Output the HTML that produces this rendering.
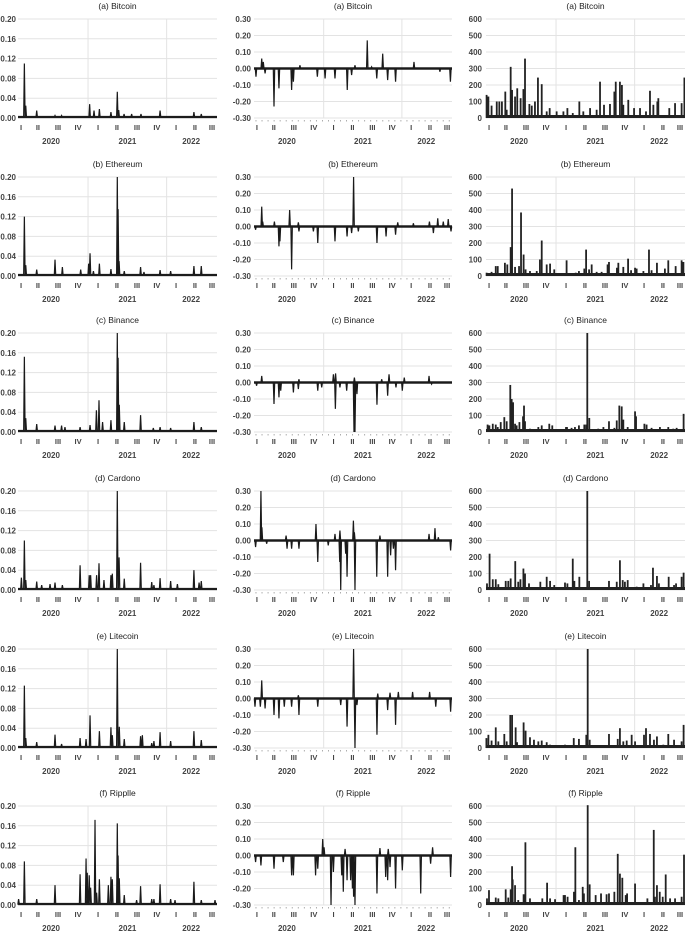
<!DOCTYPE html>
<html><head><meta charset="utf-8">
<style>
html,body{margin:0;padding:0;background:#fff;}
svg{display:block;font-family:"Liberation Sans",sans-serif;}
</style></head>
<body>
<svg id="chart" width="685" height="931" viewBox="0 0 685 931" xmlns="http://www.w3.org/2000/svg"></svg>
<script>
// ---------- data (t = time position 0..100 across 2020 Q1 – 2022 Q3) ----------
const coinTitles = ["(a) Bitcoin","(b) Ethereum","(c) Binance","(d) Cardono","(e) Litecoin","(f) Ripple","(f) Ripplle"];
const quarterLabels = ["I","II","III","IV","I","II","III","IV","I","II","III"];
const quarterPos = [1.5,10,20.1,30.2,40.2,49.7,59.8,69.8,79.4,88.9,97.5];
const yearLabels = ["2020","2021","2022"];
const yearPos = [16.6,55,87];
const yearGrid = [35.2,74.7];
const ticksVol = [0,0.04,0.08,0.12,0.16,0.20];
const ticksRet = [-0.30,-0.20,-0.10,0.00,0.10,0.20,0.30];
const ticksVolu = [0,100,200,300,400,500,600];

// Column 1: volatility
const volBtcT=[3.2,3.9,9.4,18.6,21.9,36,38.2,40.9,46.7,49.9,50.6,53.3,57.1,61.8,71.4,88.4,92.1];
const volBtcV=[0.11,0.025,0.015,0.005,0.005,0.028,0.015,0.018,0.012,0.053,0.016,0.008,0.008,0.008,0.015,0.012,0.008];
const volEthT=[3.2,3.9,9.4,18.6,22.3,31.5,35.5,36.2,37.9,40.9,46.7,49.9,50.3,50.8,53.4,61.6,63.3,71.4,76.7,88.4,92.1];
const volEthV=[0.12,0.022,0.013,0.033,0.018,0.013,0.025,0.046,0.01,0.025,0.014,0.2,0.135,0.03,0.01,0.018,0.008,0.012,0.01,0.02,0.02];
const volBnbT=[3.2,3.9,9.4,18.6,21.9,23.6,31.2,36.2,39.4,40.7,42.5,46.7,49.9,50.3,50.9,53.4,61.6,68,71.4,76.7,88.4,92.1];
const volBnbV=[0.152,0.028,0.016,0.013,0.013,0.01,0.01,0.014,0.044,0.064,0.02,0.024,0.2,0.15,0.055,0.02,0.034,0.008,0.01,0.008,0.02,0.01];
const volAdaT=[1.7,3.2,3.9,9.4,11.9,16.1,18.6,22.3,31.2,35.8,36.5,39.5,40.7,43.2,46.7,47.4,49.9,50.8,53.4,61.6,67.2,68.3,71.4,76.7,80.1,88.4,91,92.1];
const volAdaV=[0.025,0.1,0.02,0.017,0.01,0.012,0.015,0.01,0.05,0.03,0.03,0.03,0.054,0.02,0.03,0.033,0.2,0.066,0.023,0.055,0.016,0.01,0.024,0.018,0.012,0.04,0.015,0.018];
const volLtcT=[3.2,3.9,9.4,18.6,21.9,31.2,34.2,36.2,40.9,46.7,47.4,49.9,50.9,53.4,61.6,62.5,67.2,68.3,71.4,76.7,88.4,92.1];
const volLtcV=[0.126,0.02,0.012,0.027,0.008,0.02,0.018,0.066,0.034,0.042,0.026,0.2,0.043,0.018,0.024,0.026,0.01,0.014,0.032,0.014,0.034,0.016];
const volXrpT=[0.3,3.2,9.4,18.6,31.2,34.2,34.8,35.8,36.5,38.7,39.5,40.9,45.4,46.7,47.4,49.9,50.3,50.9,53.4,59.6,61.6,67.2,68.3,71.4,76.7,78.9,88.4,92.1,99];
const volXrpV=[0.012,0.088,0.012,0.04,0.062,0.094,0.065,0.06,0.035,0.172,0.025,0.052,0.04,0.057,0.052,0.165,0.1,0.054,0.02,0.01,0.038,0.012,0.012,0.042,0.012,0.01,0.047,0.01,0.01];

// Column 2: returns
const retBtcT=[1,3.9,4.7,5.6,10.1,12.6,19,19.9,23.2,32,35.9,40.9,47.1,49.3,51,57.2,59.4,62,65,67.5,71.5,80.8,93.9,99.2];
const retBtcV=[-0.05,0.06,0.04,-0.03,-0.23,-0.12,-0.13,-0.08,0.02,-0.05,-0.06,-0.06,-0.13,-0.04,0.02,0.17,0.01,-0.06,0.09,-0.07,-0.08,0.04,-0.02,-0.08];
const retEthT=[0.8,3.9,4.4,10.3,12.6,13.1,18,19,22.7,22.4,30,32.2,40.9,47,49.3,50.3,52.7,62.1,66.7,71.5,72.6,80.5,88.6,90.6,92.8,95.6,98.1,99.5];
const retEthV=[-0.02,0.12,0.03,0.03,-0.12,-0.09,0.1,-0.26,-0.03,0.025,-0.03,-0.1,-0.09,-0.06,-0.04,0.3,-0.03,-0.1,-0.06,-0.05,0.025,0.02,0.03,-0.04,0.05,0.03,0.045,-0.03];
const retBnbT=[1.3,3.9,10.1,12.6,13.5,19.9,22.4,22.7,32.2,34.2,40.1,41.2,41.1,43.4,46.8,50.5,50.7,51,52,62.1,64.5,67.5,68.2,71.7,74.9,75.9,88.4,89.7];
const retBnbV=[-0.02,0.04,-0.13,-0.09,-0.05,-0.06,-0.04,0.02,-0.05,-0.03,0.05,0.055,-0.16,-0.03,-0.05,-0.3,0.03,-0.3,-0.07,-0.135,0.02,-0.08,0.05,-0.03,-0.05,0.03,0.04,-0.01];
const retAdaT=[0.8,3.5,4,6.4,16.2,16.7,19,22.7,31.3,32.2,37.5,40.9,43.3,43.4,43.8,46.3,47,50.2,51,50.7,62,63.6,67.5,69,70.4,71.5,88.4,91.4,93.1,99.3];
const retAdaV=[-0.04,0.3,0.08,-0.02,0.03,-0.05,-0.05,-0.05,0.1,-0.13,-0.03,0.04,-0.13,0.06,-0.3,-0.08,-0.22,0.12,-0.3,0.05,-0.22,0.03,-0.22,-0.09,-0.05,-0.18,0.04,0.075,0.02,-0.06];
const retLtcT=[0.5,3.2,3.9,5.6,10.1,12.6,15.3,19,22.4,22.7,32.2,43.8,47,50.3,51,52,62.1,62.5,67.5,68.7,71.5,72.9,80.1,88.7,91.8,99.3];
const retLtcV=[-0.05,-0.05,0.11,-0.06,-0.1,-0.12,-0.05,-0.05,0.02,-0.1,-0.05,-0.04,-0.17,0.3,-0.3,-0.04,-0.22,0.03,-0.07,0.035,-0.16,0.04,0.04,0.04,-0.05,-0.08];
const retXrpT=[0.8,3.5,10.1,14.8,19,19.9,31.1,32.2,34.7,35.4,38.9,40.1,44.3,45.1,46,47,48.8,49.7,50.3,51,62.1,63.6,66.5,67.5,67.8,68.7,71.5,74.9,84.2,89.2,90.2,99.3];
const retXrpV=[-0.04,-0.06,-0.08,-0.04,-0.12,-0.12,-0.12,-0.08,0.1,0.05,-0.3,-0.1,-0.12,-0.22,0.04,-0.15,-0.15,-0.2,-0.25,-0.3,-0.23,0.045,-0.13,-0.15,0.04,-0.07,-0.2,-0.09,-0.23,-0.05,0.05,-0.13];

// Column 3: volume
const vlmBtcT=[0.3,1.2,2.8,5.4,6.7,8,9.7,10.4,12.4,13.1,14.6,15.7,17.4,18.8,19.6,21.8,23,24.6,26.1,28,30.5,32,35.5,38.9,40.9,43.6,46.9,48.9,52.3,55.6,57.3,59.3,62.3,64.5,65.2,67.3,68.3,69,71.5,74.4,77.4,80.4,82.4,84.1,86.1,86.6,92.1,95,98.3,99.7];
const vlmBtcV=[140,130,75,100,100,100,160,50,310,170,130,180,120,175,360,85,75,100,245,205,40,60,40,40,60,30,100,40,60,50,220,80,85,160,220,220,200,80,110,60,60,40,165,80,100,120,60,90,90,245];
const vlmEthT=[0.3,2.8,4.9,5.9,9.5,10.7,12.4,13.1,14.6,16.6,17.6,18.9,19.9,22.1,25.5,27.1,28,30.5,32.2,34.3,40.5,45.1,46.7,49.4,50.3,51.8,53.1,55.6,58.1,61.1,61.8,65.8,66.5,69,71.4,72.9,74.9,75.7,79.1,81.9,83.2,85.9,89.9,91.6,95.3,98.3,99.2];
const vlmEthV=[20,25,60,60,80,70,175,530,55,60,385,130,40,30,30,100,215,70,75,40,95,20,30,45,160,40,70,25,25,70,85,50,80,55,105,35,50,45,30,160,35,80,45,95,60,95,85];
const vlmBnbT=[0.8,1.7,3.4,4.9,5.9,7.4,9.2,10.4,12.2,12.9,13.6,14.6,15.4,16.8,18.6,19.1,19.6,22.1,26.3,28,31.8,33.3,40.2,40.7,43,44.7,46.7,49.4,50.3,50.9,51.9,56.4,59,61.8,64.5,65.7,67,68.2,69,71.2,74.9,75.4,79.6,80.7,83.2,87.4,91.6,94.1,95.8,99.3];
const vlmBnbV=[45,40,50,45,30,60,90,65,285,200,180,50,40,60,95,160,65,20,30,40,50,40,30,30,25,30,40,45,45,600,85,20,30,65,25,70,160,155,75,30,125,95,50,45,25,30,30,20,25,110];
const vlmAdaT=[0.5,1.8,3.4,4.9,6.2,9.9,11.2,12.4,14.7,16.2,17.3,18.8,19.6,21.6,27.3,30.5,32.2,34.3,39.7,40.9,43.6,44.4,46.9,50.9,51.8,54.8,61.8,65.7,67.3,68.7,69.8,71.2,75.7,79.1,82.9,83.9,85.9,86.9,91.8,94.5,95.5,98.3,99.3];
const vlmAdaV=[40,220,65,65,35,55,55,70,175,50,65,130,100,40,50,80,55,30,45,40,190,55,80,600,55,15,55,50,180,60,50,60,20,40,30,135,85,40,80,30,40,80,105];
const vlmLtcT=[0.2,1.2,2.8,4.9,6.2,9.2,10.4,12.2,13.1,14.9,15.6,18.9,19.9,22.1,24.1,26.3,28,30.5,32.2,34.7,39.7,44.1,46.7,50.4,51.1,52.1,56.4,61.8,66.2,67.3,69,70.7,73.2,74.9,79.4,80.4,82.4,84.4,85.9,89.1,91.6,94.5,98.3,99.3];
const vlmLtcV=[60,80,45,125,40,85,40,200,200,125,35,155,105,65,50,40,45,35,20,15,20,60,55,80,600,50,15,85,55,120,40,45,80,40,80,120,85,50,70,20,85,50,40,140];
const vlmXrpT=[0.5,1.5,4.9,6.2,9.9,11.2,12.4,13.1,13.4,14.6,16.2,18.9,19.8,22.1,28.3,30.7,32.2,34.7,39,39.7,41,44.2,44.9,46.7,48.6,49.2,51.1,52.1,55.1,57.8,60.6,61.8,64.5,66.2,67.3,68.5,70.2,70.9,74.9,81.1,84.3,84.9,85.9,87.3,88.8,90.3,92.5,95,98.3,99.5];
const vlmXrpV=[40,90,45,40,95,45,95,235,155,120,30,65,380,40,40,135,40,35,60,60,50,80,350,30,110,70,605,125,60,70,65,70,80,310,190,165,60,70,130,40,455,50,120,80,50,185,40,40,50,305];

// ---------- layout ----------
const rowTops=[19,177,333,491,649,806];
const PH=99;
const cols=[
 {x0:18,x1:217,lab:16,type:"vol",min:0,max:0.2,ticks:ticksVol,fmt:v=>v.toFixed(2)},
 {x0:254,x1:452,lab:251,type:"ret",min:-0.3,max:0.3,ticks:ticksRet,fmt:v=>v.toFixed(2)},
 {x0:486,x1:685,lab:482,type:"vlm",min:0,max:600,ticks:ticksVolu,fmt:v=>String(v)}
];
const series=[
 [[volBtcT,volBtcV],[volEthT,volEthV],[volBnbT,volBnbV],[volAdaT,volAdaV],[volLtcT,volLtcV],[volXrpT,volXrpV]],
 [[retBtcT,retBtcV],[retEthT,retEthV],[retBnbT,retBnbV],[retAdaT,retAdaV],[retLtcT,retLtcV],[retXrpT,retXrpV]],
 [[vlmBtcT,vlmBtcV],[vlmEthT,vlmEthV],[vlmBnbT,vlmBnbV],[vlmAdaT,vlmAdaV],[vlmLtcT,vlmLtcV],[vlmXrpT,vlmXrpV]]
];
const titleIdx=[[0,1,2,3,4,6],[0,1,2,3,4,5],[0,1,2,3,4,5]];
const colNames=["volatility","returns","volume"];
const rowNames=["bitcoin","ethereum","binance","cardono","litecoin","ripple"];

const NS="http://www.w3.org/2000/svg";
const svg=document.getElementById("chart");
function mk(tag,attrs,parent){const e=document.createElementNS(NS,tag);for(const k in attrs)e.setAttribute(k,attrs[k]);(parent||svg).appendChild(e);return e;}

cols.forEach((c,ci)=>{
 rowTops.forEach((top,ri)=>{
  const g=mk("g",{});
  
  
  const xS=t=>c.x0+(c.x1-c.x0)*t/100;
  const yS=v=>top+PH*(c.max-v)/(c.max-c.min);
  const bottom=top+PH;
  // title
  const tt=mk("text",{x:(c.x0+c.x1)/2,y:top-10,"text-anchor":"middle","font-size":"8.5",fill:"#222"},g);
  tt.textContent=coinTitles[titleIdx[ci][ri]];
  
  
  // horizontal grid + y labels
  c.ticks.forEach(v=>{
   const y=yS(v);
   const gl=mk("line",{x1:c.x0,x2:c.x1,y1:y,y2:y,stroke:"#e3e3e3","stroke-width":"1"},g);
   
   
   const tl=mk("text",{x:c.lab,y:y+3,"text-anchor":"end","font-size":"8","font-weight":"bold",fill:"#444"},g);
   tl.textContent=c.fmt(v);
   
   
  });
  // vertical year grid
  yearGrid.forEach(t=>{
   const vl=mk("line",{x1:xS(t),x2:xS(t),y1:top,y2:bottom,stroke:"#e3e3e3","stroke-width":"1"},g);
   
   
  });
  // minor ticks for returns column
  if(c.type==="ret"){
   for(let t=1;t<100;t+=3.05){
    const mt=mk("line",{x1:xS(t),x2:xS(t),y1:bottom+2,y2:bottom+3.5,stroke:"#999","stroke-width":"0.8"},g);
    
    
   }
  }
  // quarter labels
  quarterLabels.forEach((q,i)=>{
   const ql=mk("text",{x:xS(quarterPos[i]),y:bottom+12,"text-anchor":"middle","font-size":"7.5","font-weight":"bold",fill:"#444"},g);
   ql.textContent=q;
   
   
  });
  yearLabels.forEach((yl,i)=>{
   const t=mk("text",{x:xS(yearPos[i]),y:bottom+26,"text-anchor":"middle","font-size":"8","font-weight":"bold",fill:"#444"},g);
   t.textContent=yl;
   
   
  });
  // series
  const [T,V]=series[ci][ri];
  const y0=yS(0);
  if(c.type==="vlm"){
   const band=mk("rect",{x:c.x0,y:y0-3,width:c.x1-c.x0,height:3,fill:"#222"},g);
   
   
   T.forEach((t,i)=>{
    const h=y0-yS(V[i]);
    const b=mk("rect",{x:xS(t)-0.9,y:yS(V[i]),width:1.8,height:h,fill:"#222"},g);
    
    
   });
  } else {
   const idx=T.map((t,i)=>i).sort((a,b)=>T[a]-T[b]);
   const base=c.type==="vol"?yS(0.002):y0;
   let d="M"+c.x0+","+base;
   idx.forEach(i=>{
    const x=xS(T[i]);
    d+=" L"+(x-0.7)+","+base+" L"+x+","+yS(V[i])+" L"+(x+0.7)+","+base;
   });
   d+=" L"+c.x1+","+base;
   const bl=mk("line",{x1:c.x0,x2:c.x1,y1:base,y2:base,stroke:"#222","stroke-width":c.type==="vol"?"2.2":"2.6"},g);
   
   
   const p=mk("path",{d:d,fill:"none",stroke:"#1a1a1a","stroke-width":"1.2","stroke-linejoin":"miter"},g);
   
   
  }
 });
});
</script>
</body></html>
